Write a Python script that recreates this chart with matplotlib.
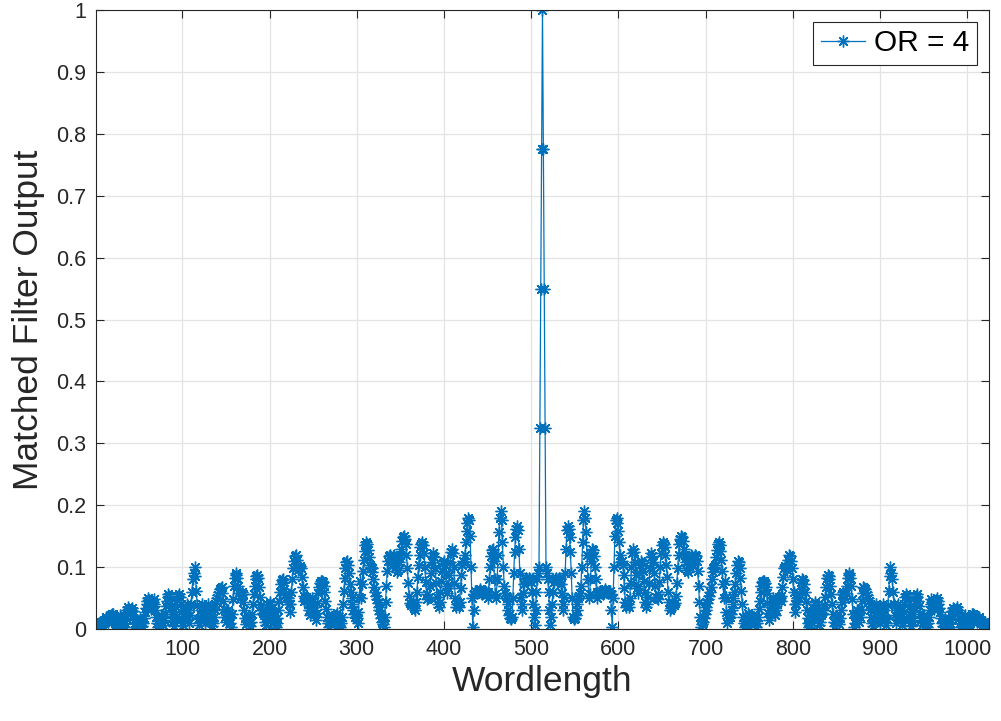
import numpy as np
import matplotlib
matplotlib.use("Agg")
import matplotlib.pyplot as plt

plt.rcParams['font.family'] = ['Liberation Sans', 'DejaVu Sans']

# left half of the matched filter output (samples 1..512)
left_half = [
    0.008, 0.006, 0.004, 0.007, 0.010, 0.012, 0.011, 0.008, 0.005, 0.009, 0.014, 0.018, 0.020, 0.016, 0.012, 0.015,
    0.019, 0.023, 0.025, 0.024, 0.020, 0.015, 0.010, 0.006, 0.003, 0.008, 0.013, 0.017, 0.022, 0.019, 0.014, 0.008,
    0.004, 0.010, 0.018, 0.026, 0.031, 0.035, 0.033, 0.028, 0.030, 0.034, 0.029, 0.022, 0.015, 0.009, 0.004, 0.002,
    0.006, 0.012, 0.016, 0.013, 0.009, 0.005, 0.010, 0.018, 0.027, 0.034, 0.040, 0.046, 0.050, 0.047, 0.040, 0.032,
    0.036, 0.044, 0.048, 0.041, 0.030, 0.019, 0.010, 0.004, 0.008, 0.015, 0.022, 0.018, 0.012, 0.006, 0.014, 0.025,
    0.037, 0.045, 0.052, 0.057, 0.054, 0.046, 0.035, 0.024, 0.013, 0.005, 0.012, 0.024, 0.036, 0.047, 0.053, 0.057,
    0.051, 0.040, 0.028, 0.016, 0.007, 0.015, 0.026, 0.034, 0.041, 0.030, 0.019, 0.010, 0.022, 0.040, 0.060, 0.080,
    0.090, 0.100, 0.085, 0.062, 0.038, 0.016, 0.006, 0.018, 0.030, 0.040, 0.036, 0.027, 0.017, 0.009, 0.019, 0.028,
    0.036, 0.040, 0.033, 0.022, 0.012, 0.005, 0.010, 0.020, 0.031, 0.040, 0.046, 0.050, 0.055, 0.060, 0.064, 0.067,
    0.068, 0.058, 0.045, 0.032, 0.020, 0.012, 0.022, 0.030, 0.026, 0.018, 0.010, 0.004, 0.025, 0.048, 0.070, 0.083,
    0.088, 0.090, 0.082, 0.070, 0.058, 0.050, 0.055, 0.060, 0.056, 0.044, 0.030, 0.017, 0.008, 0.014, 0.020, 0.016,
    0.010, 0.005, 0.012, 0.025, 0.040, 0.056, 0.070, 0.080, 0.086, 0.088, 0.082, 0.068, 0.052, 0.038, 0.030, 0.026,
    0.030, 0.022, 0.012, 0.006, 0.016, 0.028, 0.038, 0.044, 0.040, 0.034, 0.028, 0.020, 0.012, 0.006, 0.004, 0.010,
    0.018, 0.030, 0.045, 0.060, 0.072, 0.079, 0.080, 0.076, 0.064, 0.055, 0.050, 0.052, 0.050, 0.040, 0.028, 0.040,
    0.060, 0.080, 0.098, 0.110, 0.118, 0.120, 0.112, 0.100, 0.096, 0.100, 0.102, 0.098, 0.084, 0.068, 0.054, 0.046,
    0.050, 0.052, 0.048, 0.040, 0.030, 0.022, 0.030, 0.042, 0.050, 0.046, 0.036, 0.024, 0.014, 0.026, 0.042, 0.058,
    0.068, 0.074, 0.077, 0.078, 0.076, 0.070, 0.060, 0.046, 0.032, 0.020, 0.010, 0.004, 0.010, 0.016, 0.020, 0.018,
    0.014, 0.010, 0.016, 0.022, 0.026, 0.020, 0.012, 0.006, 0.004, 0.010, 0.020, 0.040, 0.062, 0.082, 0.098, 0.108,
    0.110, 0.104, 0.090, 0.072, 0.060, 0.050, 0.040, 0.030, 0.024, 0.020, 0.024, 0.018, 0.010, 0.028, 0.052, 0.078,
    0.050, 0.072, 0.094, 0.112, 0.126, 0.136, 0.140, 0.138, 0.128, 0.116, 0.104, 0.100, 0.098, 0.092, 0.080, 0.068,
    0.060, 0.054, 0.048, 0.042, 0.036, 0.030, 0.024, 0.018, 0.012, 0.008, 0.004, 0.020, 0.044, 0.070, 0.094, 0.110,
    0.118, 0.120, 0.112, 0.104, 0.110, 0.118, 0.120, 0.114, 0.104, 0.092, 0.096, 0.108, 0.116, 0.120, 0.130, 0.142,
    0.148, 0.150, 0.146, 0.138, 0.120, 0.098, 0.074, 0.054, 0.042, 0.038, 0.040, 0.044, 0.040, 0.034, 0.030, 0.044,
    0.060, 0.084, 0.104, 0.120, 0.132, 0.138, 0.140, 0.136, 0.122, 0.100, 0.076, 0.056, 0.048, 0.050, 0.052, 0.070,
    0.090, 0.108, 0.118, 0.122, 0.116, 0.098, 0.074, 0.052, 0.040, 0.036, 0.044, 0.060, 0.078, 0.094, 0.106, 0.110,
    0.104, 0.090, 0.070, 0.058, 0.066, 0.088, 0.108, 0.124, 0.130, 0.122, 0.100, 0.074, 0.050, 0.036, 0.040, 0.042,
    0.036, 0.044, 0.066, 0.088, 0.104, 0.110, 0.108, 0.120, 0.140, 0.158, 0.172, 0.180, 0.176, 0.150, 0.100, 0.050,
    0.004, 0.030, 0.056, 0.062, 0.060, 0.058, 0.060, 0.062, 0.064, 0.062, 0.058, 0.056, 0.058, 0.060, 0.062, 0.060,
    0.056, 0.050, 0.060, 0.080, 0.100, 0.118, 0.128, 0.130, 0.110, 0.080, 0.056, 0.050, 0.080, 0.120, 0.156, 0.180,
    0.190, 0.176, 0.140, 0.100, 0.070, 0.058, 0.054, 0.050, 0.040, 0.030, 0.022, 0.018, 0.016, 0.020, 0.050, 0.090,
    0.124, 0.148, 0.162, 0.166, 0.160, 0.130, 0.090, 0.052, 0.030, 0.040, 0.058, 0.072, 0.080, 0.082, 0.080, 0.078,
    0.080, 0.082, 0.080, 0.076, 0.060, 0.040, 0.020, 0.006, 0.030, 0.060, 0.080, 0.090, 0.100, 0.325, 0.550, 0.775,
]
peak_value = 1.0

# autocorrelation magnitude is symmetric around the peak
mf_output = np.array(left_half + [peak_value] + left_half[::-1])
samples = np.arange(1, len(mf_output) + 1)

x_ticks = [100, 200, 300, 400, 500, 600, 700, 800, 900, 1000]
y_ticks = [0, 0.1, 0.2, 0.3, 0.4, 0.5, 0.6, 0.7, 0.8, 0.9, 1]
y_tick_labels = ['0', '0.1', '0.2', '0.3', '0.4', '0.5', '0.6', '0.7', '0.8', '0.9', '1']

fig = plt.figure(figsize=(10.01, 7.21), dpi=100)
ax = fig.add_axes([0.0959, 0.1276, 0.8921, 0.8585])

ax.plot(samples, mf_output, color='#0072BD', linewidth=0.9,
        marker=(8, 2, 0), markersize=8.5, markeredgewidth=1.0, label='OR = 4')

ax.set_xlim(1, len(mf_output))
ax.set_ylim(0, 1)
ax.set_xticks(x_ticks)
ax.set_yticks(y_ticks)
ax.set_yticklabels(y_tick_labels)

dark = '#262626'
ax.grid(True, color='#e3e3e3', linewidth=0.9)
ax.set_axisbelow(True)
for s in ax.spines.values():
    s.set_color(dark)
    s.set_linewidth(0.8)
ax.tick_params(direction='in', length=6, width=0.8, colors=dark,
               labelsize=15.5, top=True, right=True, pad=7)

ax.set_xlabel('Wordlength', fontsize=25.5, color=dark, labelpad=4)
ax.set_ylabel('Matched Filter Output', fontsize=25.5, color=dark, labelpad=8)

leg = ax.legend(loc='upper right', fontsize=21.5, frameon=True, fancybox=False,
                handlelength=1.5, handletextpad=0.3, borderpad=0.25,
                borderaxespad=0.4)
leg.get_frame().set_edgecolor(dark)
leg.get_frame().set_linewidth(0.8)
leg.get_frame().set_alpha(1)

fig.savefig('out.png', dpi=100)
